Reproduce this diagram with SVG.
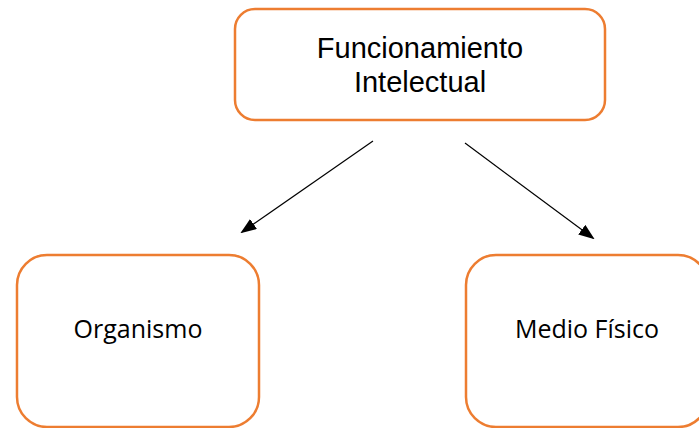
<svg xmlns="http://www.w3.org/2000/svg" width="699" height="428" viewBox="0 0 699 428">
<style>
.box{fill:#fff;stroke:#ED7D31;stroke-width:2.5}
.t1{font-family:"Liberation Sans",Arial,sans-serif;font-size:29px;fill:#000;text-anchor:middle}
.t2{font-family:"Open Sans",sans-serif;font-size:25px;fill:#000;text-anchor:middle}
.conn{stroke:#000;stroke-width:1.2;fill:none;marker-end:url(#ah)}
</style>
<defs>
<marker id="ah" markerWidth="16" markerHeight="12" refX="14" refY="6" orient="auto" markerUnits="userSpaceOnUse">
<path d="M0,0 L16,6 L0,12 Z" fill="#000"/>
</marker>
</defs>
<rect width="699" height="428" fill="#fff"/>
<g id="connectors">
<line class="conn" x1="373" y1="141" x2="242" y2="232"/>
<line class="conn" x1="465" y1="143" x2="593" y2="238"/>
</g>
<g id="node-funcionamiento">
<rect class="box" x="235" y="9" width="370" height="111" rx="20"/>
<text class="t1" x="420" y="58">Funcionamiento</text>
<text class="t1" x="420" y="92">Intelectual</text>
</g>
<g id="node-organismo">
<rect class="box" x="17" y="255" width="242" height="172" rx="30"/>
<text class="t2" x="138" y="338">Organismo</text>
</g>
<g id="node-medio">
<rect class="box" x="466" y="255" width="242" height="172" rx="30"/>
<text class="t2" x="587" y="338">Medio Físico</text>
</g>
</svg>
